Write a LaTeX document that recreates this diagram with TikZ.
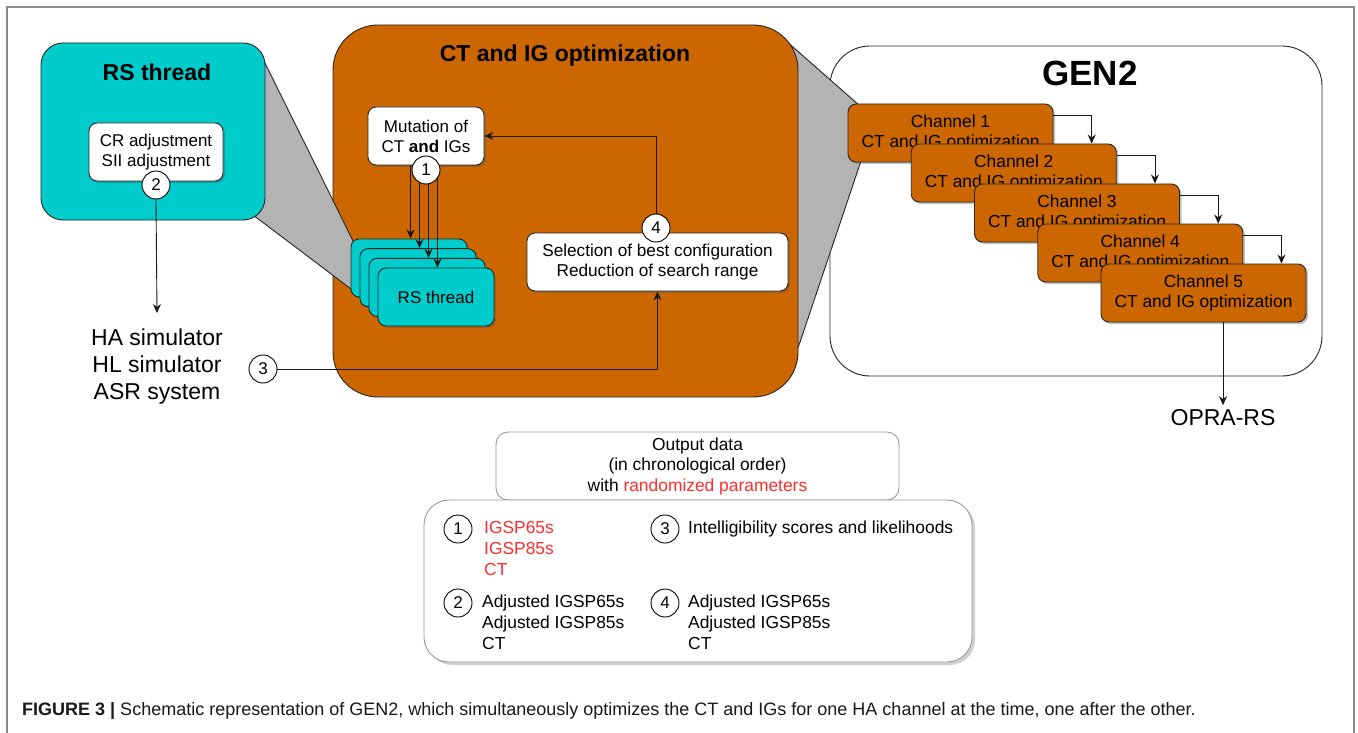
\documentclass[tikz,border=0pt]{standalone}
\usepackage{fontspec}
\setmainfont{Liberation Sans}
\usetikzlibrary{shadows,arrows.meta}
\definecolor{rscyan}{RGB}{0,204,204}
\definecolor{orng}{RGB}{204,102,0}
\definecolor{fgray}{RGB}{179,179,179}
\definecolor{red2}{RGB}{255,45,45}
\newcommand\myfs[2]{\fontsize{#1}{#2}\selectfont}
\begin{document}
\begin{tikzpicture}[x=1pt,y=-1pt,
  box/.style={draw=black!85, line width=0.9pt, rounded corners=#1, inner sep=0pt},
  box/.default=8pt,
  sz/.style 2 args={minimum width=#1pt, minimum height=#2pt},
  sh/.style={drop shadow={shadow xshift=2pt,shadow yshift=-2pt,opacity=0.35,fill=black!70}},
  bigsh/.style={drop shadow={shadow xshift=3pt,shadow yshift=-3pt,opacity=0.3,fill=black!60}},
  arr/.style={-{Stealth[length=9pt,width=8pt]}, line width=0.9pt, draw=black!90},
  fline/.style={draw=black!85, line width=0.9pt},
  num/.style={circle, draw=black, line width=0.9pt, fill=white, minimum size=28pt, inner sep=0pt, font=\myfs{17}{20}},
  chan/.style={box=8pt, fill=orng, sh, sz={205}{58}, align=center, font=\myfs{17.4}{20}},
  item/.style={anchor=north west, inner sep=0pt, align=left, font=\myfs{17.4}{21}}
]
\useasboundingbox (0,0) rectangle (1358,733);
\fill[white] (0,0) rectangle (1358,733);
% frame
\draw[draw=black!45, line width=1.5pt] (7,733) -- (7,7) -- (1354,7) -- (1354,733);

% GEN2 container
\node[box=40pt, fill=white, sz={492}{330}] (gen) at (1076,211) {};
\node[font=\bfseries\myfs{35}{40}] (gentitle) at (1090,73) {GEN2};

% right funnel
\fill[fgray] (785,40) -- (860,106) -- (862,158) -- (798,348) -- (770,348) -- (770,40) -- cycle;
\draw[fline] (785,40) -- (860,106);
\draw[fline] (862,158) -- (798,348);

% CT and IG optimization container
\node[box=45pt, fill=orng, sz={465}{372}] (opt) at (565.5,211) {};
\node[font=\bfseries\myfs{23}{26}] (opttitle) at (565,56) {CT and IG optimization};

% left funnel
\fill[fgray] (265,63) -- (355,245) -- (355,292) -- (253,215) -- (240,215) -- (240,63) -- cycle;
\draw[fline] (265,63) -- (355,245);
\draw[fline] (355,292) -- (253,215);

% RS thread container
\node[box=22pt, fill=rscyan, sz={224}{177}] (rs) at (153,131.5) {};
\node[font=\bfseries\myfs{23}{26}] (rstitle) at (157,72) {RS thread};
\node[box=8pt, fill=white, sh, sz={134}{58}, font=\myfs{17}{20}, align=center] (cr) at (156,152) {CR adjustment\\SII adjustment};
\node[num] (n2) at (156,185) {2};

% stack of RS threads
\foreach \k in {0,...,2}
  \node[box=8pt, fill=rscyan, sh, sz={116}{58}] (s\k) at (409+9*\k,268+9.67*\k) {};
\node[box=8pt, fill=rscyan, sh, sz={116}{58}, font=\myfs{17}{20}] (s3) at (436,297) {RS thread};

% mutation box
\node[box=8pt, fill=white, sh, sz={116}{58}, align=center, font=\myfs{17}{20}] (mut) at (426,136) {Mutation of\\CT \textbf{and} IGs};
\foreach \k in {0,...,3}
  \draw[arr] ([xshift=1.5pt]s\k.north |- mut.south) -- ([xshift=1.5pt]s\k.north);
\node[num] (n1) at (426,170) {1};

% selection box
\node[box=8pt, fill=white, sh, sz={261}{58}, align=center, font=\myfs{17.2}{20}] (sel) at (657.5,262) {Selection of best configuration\\Reduction of search range};
\node[num] (n4) at (656,228) {4};
\draw[arr] (n4.north) |- (mut.east);

% input 3
\node[num] (n3) at (263,369) {3};
\draw[arr] (n3.east) -| (sel.south);

% simulators
\node[font=\myfs{23}{27}, align=center, inner ysep=16pt] (ha) at (157,367) {HA simulator\\HL simulator\\ASR system};
\draw[arr] (n2.south) -- (ha.north);

% channels
\foreach \i in {1,...,5}
  \node[chan] (c\i) at (950.5+63.25*\i-63.25,133+40*\i-40) {Channel \i\\CT and IG optimization};
\foreach \i/\j in {1/2,2/3,3/4,4/5}
  \draw[arr] ([yshift=-12pt]c\i.north east) -| ([xshift=-25pt]c\j.north east);

\node[font=\myfs{23}{27}, inner ysep=4.5pt] (opra) at (1223,418) {OPRA-RS};
\draw[arr] (opra.north |- c5.south) -- (opra.north);

% output data legend
\node[box=12pt, draw=black!40, fill=white, sz={403}{68}, align=center, font=\myfs{17.4}{20.5}] (out) at (697.5,466) {Output data\\(in chronological order)\\with \textcolor{red2}{randomized parameters}};
\node[box=25pt, draw=black!40, fill=white, sz={548}{162}, bigsh] (leg) at (698,581) {};

\node[num] (l1) at (458,529) {1};
\node[num] (l2) at (458,603) {2};
\node[num] (l3) at (665,529) {3};
\node[num] (l4) at (665,603) {4};
\node[item, text=red2] (t1) at (484,521) {IGSP65s\\IGSP85s\\CT};
\node[item] (t2) at (482,595) {Adjusted IGSP65s\\Adjusted IGSP85s\\CT};
\node[item] (t3) at (688,521) {Intelligibility scores and likelihoods};
\node[item] (t4) at (688,595) {Adjusted IGSP65s\\Adjusted IGSP85s\\CT};

% caption
\node[anchor=west, inner sep=0pt, font=\myfs{18}{21}, text=black!90] (cap) at (22,711) {\textbf{FIGURE 3 |} Schematic representation of GEN2, which simultaneously optimizes the CT and IGs for one HA channel at the time, one after the other.};
\end{tikzpicture}
\end{document}
